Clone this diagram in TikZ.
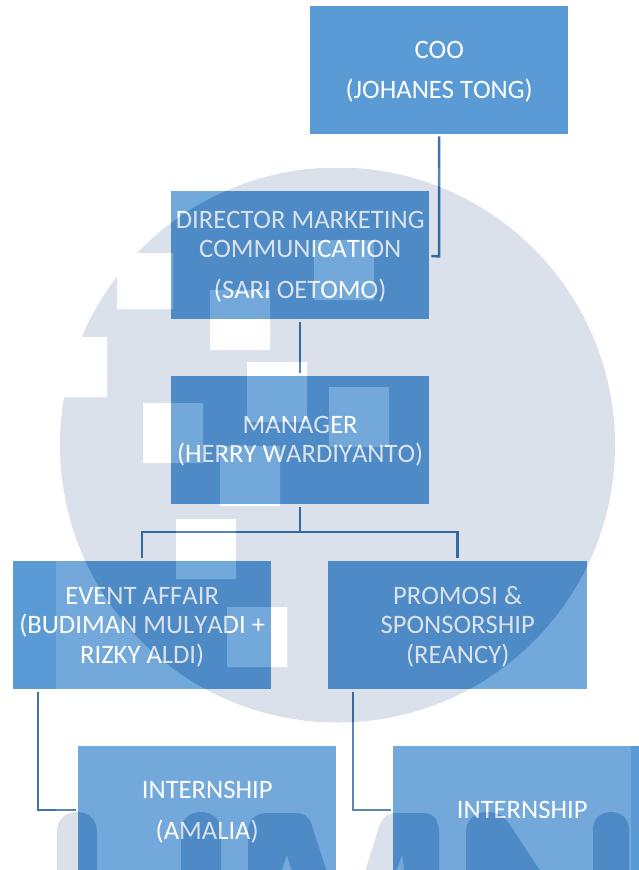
\documentclass[tikz,border=0pt]{standalone}
\usepackage{fontspec}
\setmainfont[Ligatures=NoCommon,Kerning=Off]{Carlito}
\definecolor{boxblue}{HTML}{5B9BD5}
\definecolor{linkblue}{HTML}{3D74AC}
\definecolor{logoink}{RGB}{0,48,112}
\newcommand{\tp}{\rule{0pt}{26pt}}
\newcommand{\tpm}{\rule{0pt}{25pt}}
\newcommand{\bt}{\rule[-9pt]{0pt}{9pt}}
\tikzset{
  orgbox/.style={fill=boxblue,draw=none,inner sep=0pt,minimum width=258pt,minimum height=128pt,anchor=north west,text=white,align=center,font=\fontsize{26.6}{29.5}\selectfont},
  link/.style={draw=linkblue,line width=2.5pt,line join=miter}
}
\begin{document}
\begin{tikzpicture}[x=1pt,y=-1pt]
\useasboundingbox (0,0) rectangle (639,870);
\fill[white] (0,0) rectangle (639,870);
\begin{scope}
\clip (0,0) rectangle (639,870);
\node[orgbox] (coo) at (310,6) {\tp COO\\[10.5pt]\bt(JOHANES TONG)};
\node[orgbox] (dir) at (171,191) {\tp DIRECTOR MARKETING\\COMMUNICATION\\[11.5pt]\bt(SARI OETOMO)};
\node[orgbox] (mgr) at (171,376) {\tpm MANAGER\\\bt(HERRY WARDIYANTO)};
\node[orgbox] (evt) at (13,561) {\tp EVENT AFFAIR\\(BUDIMAN MULYADI +\\\bt RIZKY ALDI)};
\node[orgbox,minimum width=259pt] (pro) at (328,561) {\tp PROMOSI \&\\SPONSORSHIP\\\bt(REANCY)};
\node[orgbox] (in1) at (78,746) {\tp INTERNSHIP\\[11.5pt]\bt(AMALIA)};
\node[orgbox] (in2) at (393,746) {\tp\bt INTERNSHIP};
\end{scope}
% connectors
\draw[link] ([yshift=-2pt]coo.south) -- ++(0,120) -- ([xshift=2pt]dir.east |- 0,256);
\draw[link] ([yshift=-3pt]dir.south) -- ([yshift=3pt]mgr.north);
\coordinate (bus) at (mgr.south |- 0,532);
\draw[link] ([yshift=-3pt]mgr.south) -- (bus);
\draw[link] ([yshift=3pt]evt.north) -- (evt.north |- bus) -- (pro.north |- bus) -- ([yshift=3pt]pro.north);
\draw[link] ([xshift=25pt,yshift=-3pt]evt.south west) -- ([xshift=25pt]evt.south west |- 0,810) -- ([xshift=-2pt]in1.west |- 0,810);
\draw[link] ([xshift=25pt,yshift=-3pt]pro.south west) -- ([xshift=25pt]pro.south west |- 0,810) -- ([xshift=-2pt]in2.west |- 0,810);
% watermark: one translucent sheet over everything
\begin{scope}[transparency group,opacity=0.14]
\clip (56,168) rectangle (631,870);
\fill[white] (56,168) rectangle (631,870);
\fill[logoink] (337.5,445) circle[radius=277.5];
\fill[white]
  (40,337) rectangle (107,397)
  (117,253) rectangle (173,309)
  (210,290) rectangle (270,350)
  (314,240) rectangle (374,300)
  (247,362) rectangle (307,422)
  (329,387) rectangle (389,447)
  (143,403) rectangle (203,463)
  (220,446) rectangle (280,506)
  (176,519) rectangle (236,579)
  (227,607) rectangle (287,667);
\fill[logoink]
  (57,875) -- (57,832) .. controls (57,819) and (66,812) .. (77,812) .. controls (88,812) and (97,819) .. (97,832) -- (97,875) -- cycle
  (181,875) -- (181,832) .. controls (181,819) and (190,812) .. (201,812) .. controls (212,812) and (221,819) .. (221,832) -- (221,875) -- cycle
  (248,875) -- (248,832) .. controls (248,820) and (255,813) .. (268,813) -- (296,813) .. controls (305,813) and (310,818) .. (312,826) -- (328,875) -- (293,875) -- (287,855) -- (280,875) -- cycle
  (364,875) -- (378,830) .. controls (381,818) and (387,813) .. (396,813) -- (424,813) .. controls (434,813) and (439,821) .. (439,832) -- (439,875) -- (405,875) -- (402,855) -- (395,875) -- cycle
  (466,875) -- (466,832) .. controls (466,820) and (475,812) .. (487,812) .. controls (496,812) and (503,815) .. (508,822) -- (543,875) -- cycle
  (593,875) -- (593,830) .. controls (593,819) and (600,812) .. (611,812) .. controls (622,812) and (629,819) .. (629,830) -- (629,875) -- cycle;
\end{scope}
\end{tikzpicture}
\end{document}
